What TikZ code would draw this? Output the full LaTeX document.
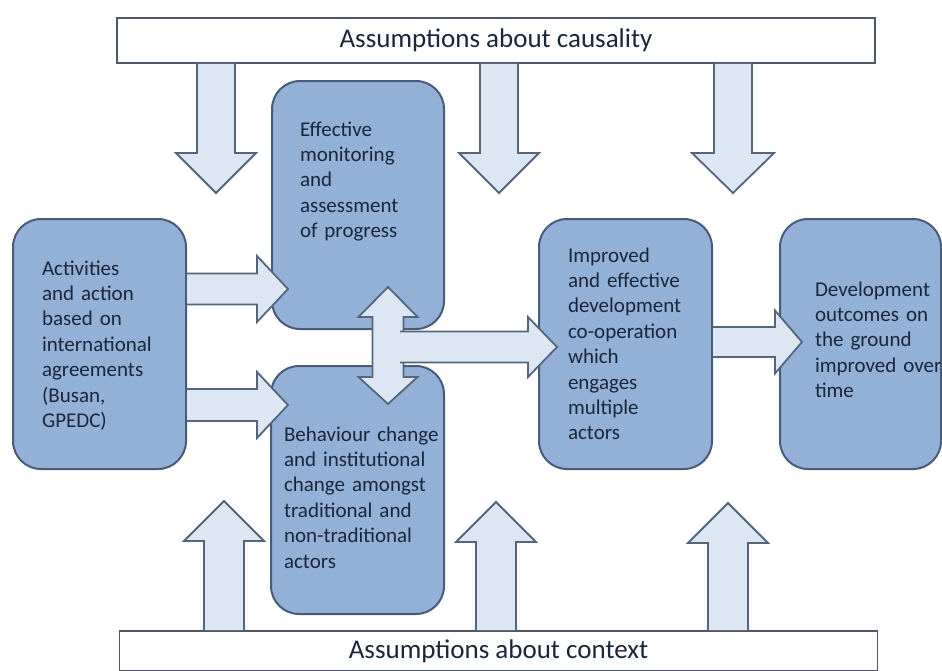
\documentclass[tikz,border=0pt]{standalone}
\usepackage{fontspec}
\setmainfont{Carlito}
\usepackage{tikz}
\usetikzlibrary{calc}
\definecolor{boxfill}{RGB}{147,177,214}
\definecolor{boxline}{RGB}{72,92,122}
\definecolor{arrowfill}{RGB}{221,231,243}
\definecolor{arrowline}{RGB}{86,101,126}
\definecolor{frameline}{RGB}{78,88,104}
\definecolor{ink}{RGB}{28,38,58}

% block arrow from #2 (open tail) to #3 (tip):
% #4 half shaft, #5 half head, #6 head length (all in pt)
\newcommand{\blockarrow}[6][]{%
  \fill[arrowfill,#1] let \p1=#2, \p2=#3, \n1={atan2(\y2-\y1,\x2-\x1)}, \n2={veclen(\x2-\x1,\y2-\y1)} in
    [shift={(\p1)}, rotate=\n1]
    (0pt,#4pt) -- (\n2-#6pt,#4pt) -- (\n2-#6pt,#5pt) -- (\n2,0pt)
    -- (\n2-#6pt,-#5pt) -- (\n2-#6pt,-#4pt) -- (0pt,-#4pt) -- cycle;
  \draw[arrowline, line width=1.8pt, line join=miter] let \p1=#2, \p2=#3, \n1={atan2(\y2-\y1,\x2-\x1)}, \n2={veclen(\x2-\x1,\y2-\y1)} in
    [shift={(\p1)}, rotate=\n1]
    (0pt,#4pt) -- (\n2-#6pt,#4pt) -- (\n2-#6pt,#5pt) -- (\n2,0pt)
    -- (\n2-#6pt,-#5pt) -- (\n2-#6pt,-#4pt) -- (0pt,-#4pt);
}

\begin{document}
\begin{tikzpicture}[
  x=1pt, y=-1pt,
  stage/.style={
    draw=boxline, line width=2pt, fill=boxfill,
    rounded corners=28pt, anchor=north west,
    align=left, text=ink, inner ysep=0pt,
    font={\fontsize{21}{25.4}\selectfont\hyphenpenalty=10000\exhyphenpenalty=10000}
  },
  assume/.style={
    draw=frameline, line width=1.6pt, fill=white,
    minimum width=758pt, inner sep=0pt,
    text=ink, font=\fontsize{27}{32}\selectfont
  }
]
\useasboundingbox (0,0) rectangle (942,670);

% assumption bars
\node[assume, minimum height=45pt] (cause) at (496,40.5) {Assumptions about causality};
\node[assume, minimum height=40pt] (ctx)   at (498.5,651) {Assumptions about context};

% stages
\node[stage, text width=115pt, inner xsep=29pt, text height=56pt, text depth=194pt] (act) at (12,218)
  {Activities\\and~action\\based~on\\international\\agreements\\(Busan,\\GPEDC)};
\node[stage, text width=116pt, inner xsep=28pt, text height=55pt, text depth=193pt] (eff) at (271,80)
  {Effective\\monitoring\\and\\assessment\\of~progress};
\node[stage, text width=147pt, inner xsep=13pt, text height=75pt, text depth=173pt] (beh) at (270,365)
  {Behaviour~change\\and~institutional\\change~amongst\\traditional~and\\non-traditional\\actors};
\node[stage, text width=115pt, inner xsep=29pt, text height=43pt, text depth=207pt] (imp) at (538,218)
  {Improved\\and~effective\\development\\co-operation\\which\\engages\\multiple\\actors};
\node[stage, text width=91pt, inner xsep=35pt, text height=77pt, text depth=173pt] (dev) at (779,218)
  {Development\\outcomes~on\\the~ground\\improved~over\\time};

% free ends of the arrows
\coordinate (dn1) at (216,193);
\coordinate (dn2) at (499,193);
\coordinate (dn3) at (733,193);
\coordinate (up1) at (224,501);
\coordinate (up2) at (496,502);
\coordinate (up3) at (728,503);
\coordinate (in1) at (288,289);
\coordinate (in2) at (288,405);
\coordinate (hub) at (388,347);
\coordinate (hubup) at (388,287);
\coordinate (hubdn) at (388,404);

% causality and context arrows
\blockarrow{(cause.south -| dn1)}{(dn1)}{19}{40}{40}
\blockarrow{(cause.south -| dn2)}{(dn2)}{19}{40}{40}
\blockarrow{(cause.south -| dn3)}{(dn3)}{19}{41}{40}
\blockarrow{(ctx.north -| up1)}{(up1)}{20}{40}{40}
\blockarrow{(ctx.north -| up2)}{(up2)}{20}{40}{40}
\blockarrow{(ctx.north -| up3)}{(up3)}{20}{40}{40}

% activities feed both middle stages
\blockarrow{(act.east |- in1)}{(in1)}{15.5}{33}{31}
\blockarrow{(act.east |- in2)}{(in2)}{16}{33}{31}

% two-way link between monitoring and behaviour
\blockarrow{(hub)}{(hubup)}{15.5}{29.5}{30}
\blockarrow{(hub)}{(hubdn)}{15.5}{29.5}{27}

% on to co-operation and outcomes
\blockarrow{([xshift=12pt]hub)}{([xshift=19pt]imp.west |- hub)}{15.5}{30}{29}
\blockarrow{([yshift=2pt]imp.east)}{([xshift=23pt,yshift=2pt]dev.west)}{15}{31.5}{27}

\end{tikzpicture}
\end{document}
